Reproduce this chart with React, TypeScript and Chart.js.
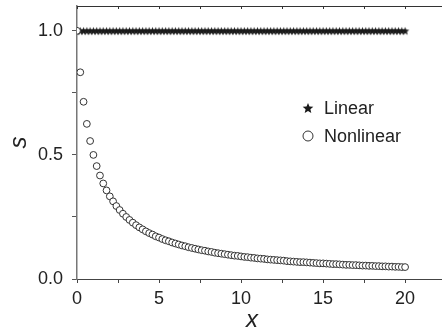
import React, { useEffect, useRef } from "react";
import { Chart, registerables } from "chart.js";

Chart.register(...registerables);

const X_VALUES = [
  0, 0.2, 0.4, 0.6, 0.8, 1, 1.2, 1.4, 1.6, 1.8,
  2, 2.2, 2.4, 2.6, 2.8, 3, 3.2, 3.4, 3.6, 3.8,
  4, 4.2, 4.4, 4.6, 4.8, 5, 5.2, 5.4, 5.6, 5.8,
  6, 6.2, 6.4, 6.6, 6.8, 7, 7.2, 7.4, 7.6, 7.8,
  8, 8.2, 8.4, 8.6, 8.8, 9, 9.2, 9.4, 9.6, 9.8,
  10, 10.2, 10.4, 10.6, 10.8, 11, 11.2, 11.4, 11.6, 11.8,
  12, 12.2, 12.4, 12.6, 12.8, 13, 13.2, 13.4, 13.6, 13.8,
  14, 14.2, 14.4, 14.6, 14.8, 15, 15.2, 15.4, 15.6, 15.8,
  16, 16.2, 16.4, 16.6, 16.8, 17, 17.2, 17.4, 17.6, 17.8,
  18, 18.2, 18.4, 18.6, 18.8, 19, 19.2, 19.4, 19.6, 19.8,
  20,
];

const LINEAR_S = [
  1, 1, 1, 1, 1, 1, 1, 1, 1, 1,
  1, 1, 1, 1, 1, 1, 1, 1, 1, 1,
  1, 1, 1, 1, 1, 1, 1, 1, 1, 1,
  1, 1, 1, 1, 1, 1, 1, 1, 1, 1,
  1, 1, 1, 1, 1, 1, 1, 1, 1, 1,
  1, 1, 1, 1, 1, 1, 1, 1, 1, 1,
  1, 1, 1, 1, 1, 1, 1, 1, 1, 1,
  1, 1, 1, 1, 1, 1, 1, 1, 1, 1,
  1, 1, 1, 1, 1, 1, 1, 1, 1, 1,
  1, 1, 1, 1, 1, 1, 1, 1, 1, 1,
  1,
];

const NONLINEAR_S = [
  1.0, 0.833, 0.714, 0.625, 0.556, 0.5, 0.455, 0.417, 0.385, 0.357,
  0.333, 0.313, 0.294, 0.278, 0.263, 0.25, 0.238, 0.227, 0.217, 0.208,
  0.2, 0.192, 0.185, 0.179, 0.172, 0.167, 0.161, 0.156, 0.152, 0.147,
  0.143, 0.139, 0.135, 0.132, 0.128, 0.125, 0.122, 0.119, 0.116, 0.114,
  0.111, 0.109, 0.106, 0.104, 0.102, 0.1, 0.098, 0.096, 0.094, 0.093,
  0.091, 0.089, 0.088, 0.086, 0.085, 0.083, 0.082, 0.081, 0.079, 0.078,
  0.077, 0.076, 0.075, 0.074, 0.072, 0.071, 0.07, 0.069, 0.068, 0.068,
  0.067, 0.066, 0.065, 0.064, 0.063, 0.063, 0.062, 0.061, 0.06, 0.06,
  0.059, 0.058, 0.057, 0.057, 0.056, 0.056, 0.055, 0.054, 0.054, 0.053,
  0.053, 0.052, 0.052, 0.051, 0.051, 0.05, 0.05, 0.049, 0.049, 0.048,
  0.048,
];

const X_TICKS = [0, 2.5, 5, 7.5, 10, 12.5, 15, 17.5, 20];
const X_LABELED = [0, 5, 10, 15, 20];
const Y_TICKS = [0, 0.25, 0.5, 0.75, 1.0];
const Y_LABELED = [0, 0.5, 1.0];
const SERIES_NAMES = ["Linear", "Nonlinear"];
const X_TITLE = "x";
const Y_TITLE = "s";

const FONT = "'Liberation Sans', Arial, sans-serif";

function makeStar(r: number, color: string): HTMLCanvasElement {
  const size = Math.ceil(r * 2 + 2);
  const c = document.createElement("canvas");
  c.width = size;
  c.height = size;
  const ctx = c.getContext("2d")!;
  const cx = size / 2;
  const cy = size / 2 + r * 0.1;
  ctx.beginPath();
  for (let i = 0; i < 10; i++) {
    const rad = i % 2 === 0 ? r : r * 0.45;
    const a = -Math.PI / 2 + (i * Math.PI) / 5;
    const px = cx + rad * Math.cos(a);
    const py = cy + rad * Math.sin(a);
    if (i === 0) ctx.moveTo(px, py);
    else ctx.lineTo(px, py);
  }
  ctx.closePath();
  ctx.fillStyle = color;
  ctx.fill();
  return c;
}

export default function App() {
  const ref = useRef<HTMLCanvasElement | null>(null);

  useEffect(() => {
    if (!ref.current) return;
    const starData = makeStar(4.3, "#1a1a1a");
    const starLegend = makeStar(5.6, "#1a1a1a");

    const decorPlugin = {
      id: "decor",
      afterDraw(chart: any) {
        const ctx = chart.ctx;
        const { left, right, top, bottom } = chart.chartArea;
        const xs = chart.scales.x;
        ctx.save();
        // top frame
        ctx.strokeStyle = "#333";
        ctx.lineWidth = 1;
        ctx.beginPath();
        ctx.moveTo(left, top + 0.5);
        ctx.lineTo(right, top + 0.5);
        ctx.stroke();
        // inward ticks on top
        for (const v of X_TICKS) {
          const px = Math.round(xs.getPixelForValue(v)) + 0.5;
          ctx.beginPath();
          ctx.moveTo(px, top);
          ctx.lineTo(px, top + 3);
          ctx.stroke();
        }
        // legend
        const lx = left + 231;
        const ly1 = top + 102;
        const ly2 = top + 130;
        ctx.drawImage(starLegend, lx - starLegend.width / 2, ly1 - starLegend.height / 2);
        ctx.beginPath();
        ctx.arc(lx, ly2, 5, 0, Math.PI * 2);
        ctx.fillStyle = "#fff";
        ctx.fill();
        ctx.strokeStyle = "#333";
        ctx.lineWidth = 1;
        ctx.stroke();
        ctx.fillStyle = "#222";
        ctx.font = `18px ${FONT}`;
        ctx.textAlign = "left";
        ctx.textBaseline = "middle";
        ctx.fillText(SERIES_NAMES[0], lx + 16, ly1 + 1);
        ctx.fillText(SERIES_NAMES[1], lx + 16, ly2 + 1);
        // axis titles
        ctx.font = `italic 24px ${FONT}`;
        ctx.textAlign = "center";
        ctx.textBaseline = "alphabetic";
        ctx.fillText(X_TITLE, left + 175, bottom + 48);
        ctx.save();
        ctx.translate(26, (top + bottom) / 2);
        ctx.rotate(-Math.PI / 2);
        ctx.fillText(Y_TITLE, 0, 0);
        ctx.restore();
        ctx.restore();
      },
    };

    const chart = new Chart(ref.current, {
      type: "scatter",
      data: {
        datasets: [
          {
            label: SERIES_NAMES[1],
            data: X_VALUES.map((x, i) => ({ x, y: NONLINEAR_S[i] })),
            pointStyle: "circle",
            pointRadius: 3.4,
            pointBackgroundColor: "#ffffff",
            pointBorderColor: "#333333",
            pointBorderWidth: 1,
            showLine: false,
          },
          {
            label: SERIES_NAMES[0],
            data: X_VALUES.map((x, i) => ({ x, y: LINEAR_S[i] })),
            pointStyle: starData as any,
            pointRadius: 4,
            showLine: false,
          },
        ],
      },
      options: {
        animation: false,
        responsive: false,
        events: [],
        layout: { autoPadding: false, padding: { top: 6, right: 0, left: 0, bottom: 0 } },
        plugins: {
          legend: { display: false },
          tooltip: { enabled: false },
          title: { display: false },
        },
        scales: {
          x: {
            type: "linear",
            min: 0,
            max: 22.25,
            afterFit: (s: any) => {
              s.height = 57;
              s.paddingLeft = 0;
              s.paddingRight = 0;
            },
            afterBuildTicks: (s: any) => {
              s.ticks = X_TICKS.map((v) => ({ value: v }));
            },
            grid: {
              drawOnChartArea: false,
              drawTicks: true,
              tickLength: 4,
              tickColor: "#444",
            },
            border: { display: true, color: "#444", width: 1 },
            ticks: {
              autoSkip: false,
              maxRotation: 0,
              padding: 5,
              color: "#222",
              font: { family: FONT, size: 18 },
              callback: (v: any) => (X_LABELED.includes(Number(v)) ? String(v) : ""),
            },
          },
          y: {
            type: "linear",
            min: 0,
            max: 1.1,
            afterFit: (s: any) => {
              s.width = 77;
              s.paddingTop = 0;
              s.paddingBottom = 0;
            },
            afterBuildTicks: (s: any) => {
              s.ticks = Y_TICKS.map((v) => ({ value: v }));
            },
            grid: {
              drawOnChartArea: false,
              drawTicks: true,
              tickLength: 5,
              tickColor: "#555",
            },
            border: { display: true, color: "#777", width: 1.5 },
            ticks: {
              autoSkip: false,
              padding: 9,
              color: "#222",
              font: { family: FONT, size: 18 },
              callback: (v: any) =>
                Y_LABELED.includes(Number(v)) ? Number(v).toFixed(1) : "",
            },
          },
        },
      },
      plugins: [decorPlugin],
    });
    return () => chart.destroy();
  }, []);

  return (
    <div style={{ position: "absolute", left: 0, top: 0, width: 442, height: 336, background: "#fff" }}>
      <canvas ref={ref} width={442} height={336} style={{ width: 442, height: 336, display: "block" }} />
    </div>
  );
}
